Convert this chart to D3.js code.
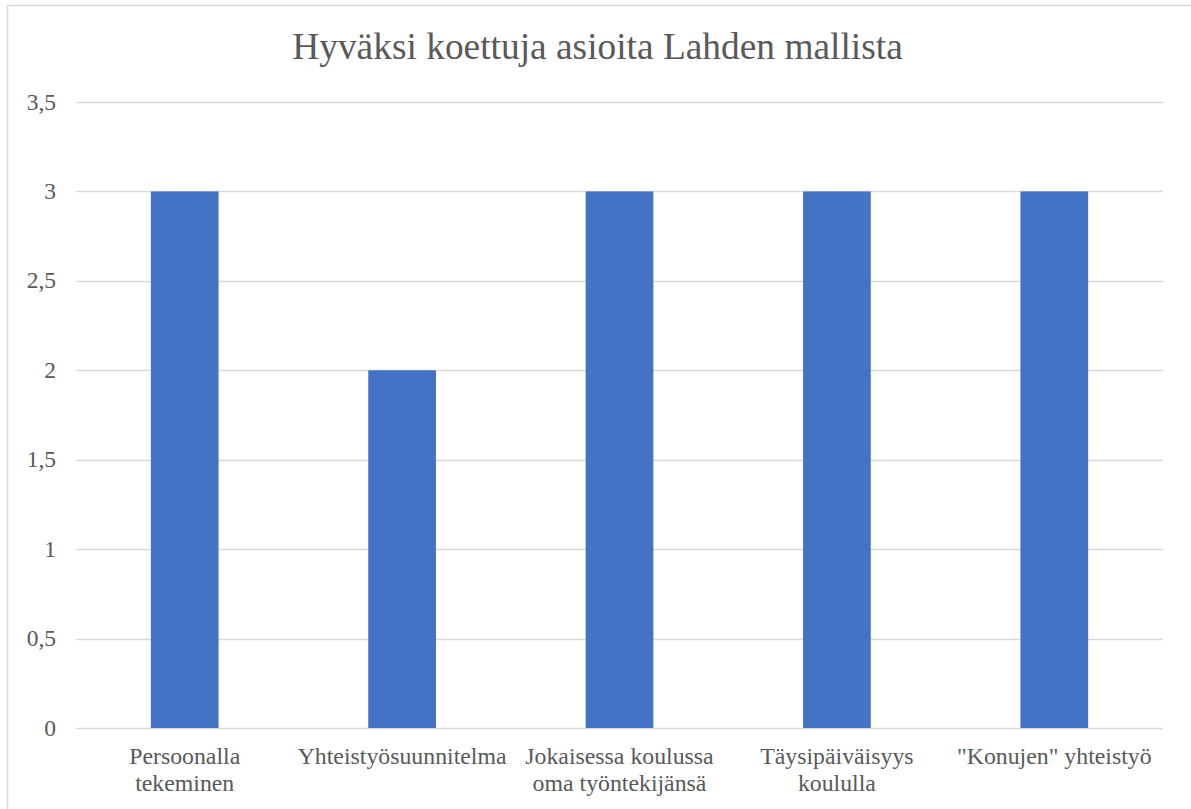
<!DOCTYPE html>
<html>
<head>
<meta charset="utf-8">
<script src="https://cdn.jsdelivr.net/npm/d3@7"></script>
<style>
  body { margin: 0; background: #fff; }
</style>
</head>
<body>
<div id="chart"></div>
<script>
const title = "Hyväksi koettuja asioita Lahden mallista";
const categories = [
    ["Persoonalla", "tekeminen"],
    ["Yhteistyösuunnitelma"],
    ["Jokaisessa koulussa", "oma työntekijänsä"],
    ["Täysipäiväisyys", "koululla"],
    ["\"Konujen\" yhteistyö"]
];
const values = [3, 2, 3, 3, 3];
const yTicks = [0, 0.5, 1, 1.5, 2, 2.5, 3, 3.5];

function main() {
    const width = 1191, height = 809;
    const plotLeft = 76, plotRight = 1163, plotTop = 102, plotBottom = 728;
    const serif = "Liberation Serif";
    const textColor = "#595959";

    const svg = d3.select("#chart").append("svg")
        .attr("width", width)
        .attr("height", height);

    // chart border
    svg.append("rect")
        .attr("x", 7.5).attr("y", 5.5)
        .attr("width", 1200).attr("height", 820)
        .attr("fill", "none")
        .attr("stroke", "#d9d9d9")
        .attr("stroke-width", 1.5);

    const x = d3.scaleBand()
        .domain(d3.range(categories.length))
        .range([plotLeft, plotRight])
        .paddingInner(0.6886)
        .paddingOuter(0.3443);

    const y = d3.scaleLinear().domain([0, 3.5]).range([plotBottom, plotTop]);

    svg.append("text")
        .attr("x", 597.5)
        .attr("y", 59)
        .attr("text-anchor", "middle")
        .style("font-family", serif)
        .style("font-size", "37.4px")
        .style("fill", textColor)
        .text(title);

    const fmt = d => String(d).replace(".", ",");

    svg.append("g")
        .selectAll("line")
        .data(yTicks)
        .enter()
        .append("line")
        .attr("x1", plotLeft)
        .attr("x2", plotRight)
        .attr("y1", d => Math.round(y(d)) + 0.5)
        .attr("y2", d => Math.round(y(d)) + 0.5)
        .attr("stroke", "#d9d9d9")
        .attr("stroke-width", 1.3);

    svg.append("g")
        .selectAll("text")
        .data(yTicks)
        .enter()
        .append("text")
        .attr("x", 56)
        .attr("y", d => y(d) + 7.5)
        .attr("text-anchor", "end")
        .style("font-family", serif)
        .style("font-size", "23.5px")
        .style("fill", textColor)
        .text(fmt);

    svg.append("g")
        .selectAll("rect")
        .data(values)
        .enter()
        .append("rect")
        .attr("x", (d, i) => x(i))
        .attr("y", d => y(d))
        .attr("width", x.bandwidth())
        .attr("height", d => plotBottom - y(d))
        .attr("fill", "#4472C4");

    const labels = svg.append("g")
        .selectAll("text")
        .data(categories)
        .enter()
        .append("text")
        .attr("x", (d, i) => x(i) + x.bandwidth() / 2)
        .attr("y", 764)
        .attr("text-anchor", "middle")
        .style("font-family", serif)
        .style("font-size", "23.8px")
        .style("fill", textColor);

    labels.selectAll("tspan")
        .data(d => d)
        .enter()
        .append("tspan")
        .attr("x", function () { return d3.select(this.parentNode).attr("x"); })
        .attr("dy", (d, i) => i === 0 ? 0 : 27)
        .text(d => d);
}
main();
</script>
</body>
</html>
